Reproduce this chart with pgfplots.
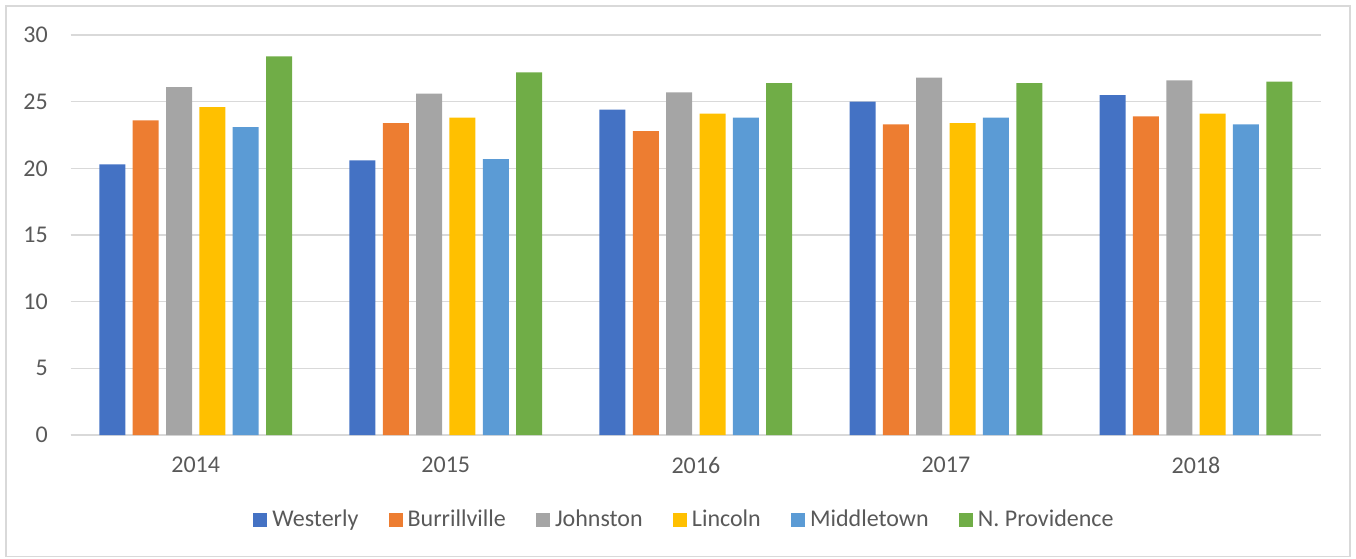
\documentclass[border=0pt]{standalone}
\usepackage{fontspec}
\setmainfont{Carlito}
\usepackage{pgfplots}
\pgfplotsset{compat=1.18}
\usepackage{pgfplotstable}
\definecolor{cW}{HTML}{4472C4}
\definecolor{cB}{HTML}{ED7D31}
\definecolor{cJ}{HTML}{A5A5A5}
\definecolor{cL}{HTML}{FFC000}
\definecolor{cM}{HTML}{5B9BD5}
\definecolor{cN}{HTML}{70AD47}
\definecolor{gridgray}{HTML}{D9D9D9}
\definecolor{txtgray}{HTML}{595959}
\pgfplotstableread{
x W B J L M N
0 20.3 23.6 26.1 24.6 23.1 28.4
1 20.6 23.4 25.6 23.8 20.7 27.2
2 24.4 22.8 25.7 24.1 23.8 26.4
3 25.0 23.3 26.8 23.4 23.8 26.4
4 25.5 23.9 26.6 24.1 23.3 26.5
}\data
\begin{document}
\begin{tikzpicture}
\path[use as bounding box] (-35.35pt,-61.5pt) rectangle (642.65pt,217.5pt);
\draw[gridgray, line width=0.75pt] (-32.35pt,-60.75pt) rectangle (639.65pt,214.5pt);
\begin{axis}[
  scale only axis, width=625.15pt, height=200pt,
  xmin=-0.5, xmax=4.5, ymin=0, ymax=30,
  ybar=3.67pt, bar width=13pt,
  xtick={0,1,2,3,4}, xticklabels={2014,2015,2016,2017,2018},
  ytick={0,5,...,30},
  ymajorgrids, major grid style={draw=gridgray, line width=0.75pt},
  axis x line*=bottom, axis y line*=left,
  y axis line style={draw=none},
  x axis line style={draw=gridgray, line width=0.9pt},
  major tick length=0pt, tick style={draw=none},
  /pgf/number format/assume math mode=true,
  tick label style={font=\fontsize{12}{14}\selectfont, text=txtgray, inner sep=0pt},
  yticklabel style={xshift=-11.3pt},
  xticklabel style={yshift=-10.8pt},
  legend style={at={(0.4921,-0.2125)}, anchor=center, draw=none, fill=none,
    font=\fontsize{12}{14}\selectfont, text=txtgray,
    /tikz/every even column/.append style={column sep=12.6pt},
    nodes={inner sep=2.5pt}},
  legend columns=-1,
  legend image code/.code={\fill[#1] (0pt,-3.5pt) rectangle (7pt,3.5pt);},
]
\addplot[fill=cW, draw=none] table[x=x, y=W] {\data};
\addplot[fill=cB, draw=none] table[x=x, y=B] {\data};
\addplot[fill=cJ, draw=none] table[x=x, y=J] {\data};
\addplot[fill=cL, draw=none] table[x=x, y=L] {\data};
\addplot[fill=cM, draw=none] table[x=x, y=M] {\data};
\addplot[fill=cN, draw=none] table[x=x, y=N] {\data};
\legend{Westerly, Burrillville, Johnston, Lincoln, Middletown, N. Providence}
\end{axis}
\end{tikzpicture}
\end{document}
